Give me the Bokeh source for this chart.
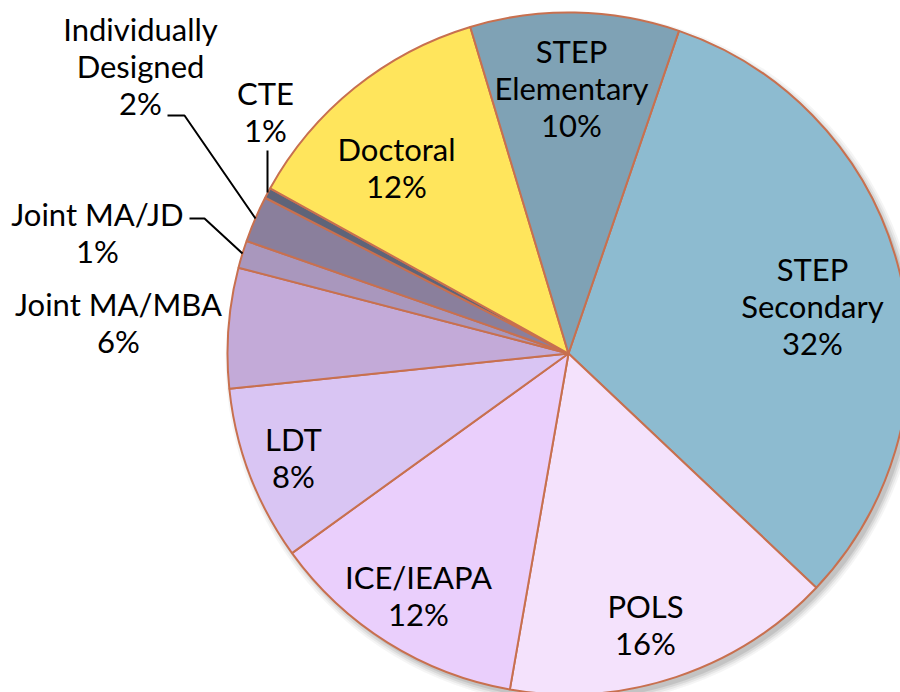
import numpy as np
from bokeh.plotting import figure
from bokeh.models import Range1d, ColumnDataSource
from bokeh.core.properties import value
from bokeh.embed import file_html
from bokeh.resources import INLINE

# ---- data ----
programs = ["STEP Secondary", "POLS", "ICE/IEAPA", "LDT", "Joint MA/MBA",
            "Joint MA/JD", "Individually Designed", "CTE", "Doctoral", "STEP Elementary"]
shares = [31.8, 15.7, 12.3, 8.3, 5.7, 1.3, 2.2, 0.5, 12.3, 9.9]
pct_labels = ["32%", "16%", "12%", "8%", "6%", "1%", "2%", "1%", "12%", "10%"]
label_lines = [["STEP", "Secondary"], ["POLS"], ["ICE/IEAPA"], ["LDT"], ["Joint MA/MBA"],
               ["Joint MA/JD"], ["Individually", "Designed"], ["CTE"], ["Doctoral"],
               ["STEP", "Elementary"]]

# ---- style / layout ----
colors = ["#8DBBD0", "#F4E2FC", "#EACFFC", "#D9C5F3", "#C3AAD8",
          "#A997BD", "#8A7F9C", "#5E6479", "#FFE55C", "#7FA2B5"]
edge = "#C8704F"
W, H = 900, 692
cx, cy, R = 568, H - 353, 341
start_deg = 71.1  # math angle where STEP Secondary begins, going clockwise
label_pos = [(812, 268), (645, 605), (418, 576), (293, 438), (118, 303),
             (97, 213), (140, 28), (265, 92), (396, 148), (571, 50)]
step = 37
FONT = "Lato"
FS = "31px"

def py(v):
    return H - v

p = figure(width=W, height=H, x_range=Range1d(0, W), y_range=Range1d(0, H),
           output_backend="svg", toolbar_location=None, min_border=0)
p.axis.visible = False
p.grid.visible = False
p.outline_line_color = None
p.background_fill_color = "white"

# soft shadow
for i, a in enumerate([0.04, 0.05, 0.07, 0.09]):
    p.circle(x=[cx + 4], y=[cy - 5], radius=R + 6 - 2 * i, fill_color="#000000",
             fill_alpha=a, line_color=None)

fr = np.array(shares) / sum(shares)
ends = np.radians(start_deg) - 2 * np.pi * np.concatenate([[0], np.cumsum(fr)[:-1]])
starts = ends - 2 * np.pi * fr
src = ColumnDataSource(dict(start=starts, end=ends, color=colors, name=programs))
p.wedge(x=cx, y=cy, radius=R, start_angle="start", end_angle="end",
        fill_color="color", line_color=edge, line_width=2, source=src)

# labels
for lines, pct, (lx, ly) in zip(label_lines, pct_labels, label_pos):
    all_lines = lines + [pct]
    ys = [py(ly + k * step) for k in range(len(all_lines))]
    p.text(x=[lx] * len(all_lines), y=ys, text=all_lines, text_align="center",
           text_baseline="middle", text_font=value(FONT), text_font_size=FS,
           text_color="#000000")

# leader lines
leaders = [
    [(167, 115), (184, 115), (255, 218)],
    [(189, 218), (204, 218), (242, 253)],
    [(267, 150), (267, 192)],
]
for seg in leaders:
    p.line(x=[s[0] for s in seg], y=[py(s[1]) for s in seg], line_color="black", line_width=2)

open("out.html", "w").write(file_html(p, INLINE))
